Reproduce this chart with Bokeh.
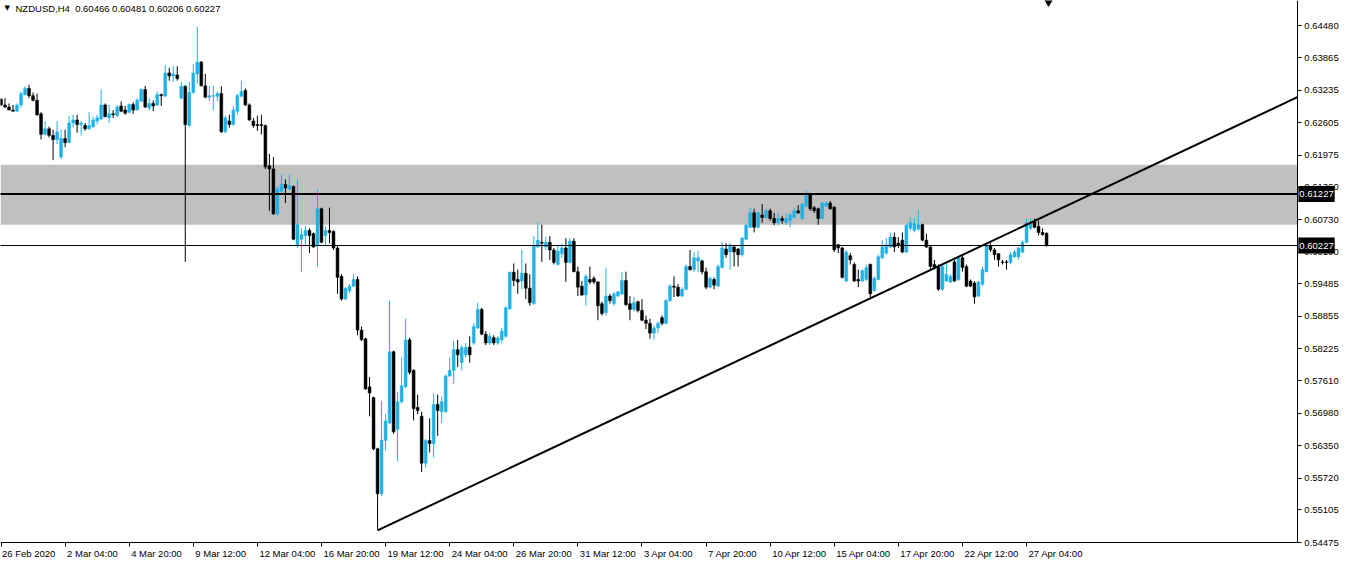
from bokeh.plotting import figure
from bokeh.models import (Range1d, FixedTicker, BoxAnnotation, Label,
                          ColumnDataSource, PrintfTickFormatter)
from bokeh.embed import file_html
from bokeh.resources import INLINE

symbol = "NZDUSD,H4"
time_labels = ["26 Feb 2020", "2 Mar 04:00", "4 Mar 20:00", "9 Mar 12:00", "12 Mar 04:00",
               "16 Mar 20:00", "19 Mar 12:00", "24 Mar 04:00", "26 Mar 20:00", "31 Mar 12:00",
               "3 Apr 04:00", "7 Apr 20:00", "10 Apr 12:00", "15 Apr 04:00", "17 Apr 20:00",
               "22 Apr 12:00", "27 Apr 04:00"]
bars_per_label = 16
price_ticks = [0.64480, 0.63865, 0.63235, 0.62605, 0.61975, 0.61360, 0.60730, 0.60100,
               0.59485, 0.58855, 0.58225, 0.57610, 0.56980, 0.56350, 0.55720, 0.55105, 0.54475]
price_min, price_max = 0.54475, 0.64973

candles = [
    (0.6306, 0.6308, 0.6293, 0.6295), (0.6295, 0.6308, 0.6289, 0.6291), (0.6291, 0.6298, 0.6285, 0.6285),
    (0.6285, 0.6295, 0.6282, 0.6283), (0.6283, 0.6298, 0.6282, 0.6295), (0.6295, 0.6321, 0.6289, 0.6317),
    (0.6315, 0.6331, 0.6313, 0.6327), (0.6327, 0.6334, 0.6308, 0.6313), (0.6313, 0.6319, 0.6302, 0.6304),
    (0.6304, 0.6317, 0.6274, 0.6276), (0.6278, 0.6281, 0.6228, 0.6238), (0.6238, 0.6264, 0.6236, 0.6249),
    (0.6249, 0.6253, 0.6232, 0.6236), (0.6236, 0.6247, 0.6188, 0.6228), (0.6228, 0.6264, 0.6219, 0.6243),
    (0.6194, 0.6247, 0.6190, 0.6230), (0.6230, 0.6247, 0.6213, 0.6222), (0.6222, 0.6274, 0.6222, 0.6260),
    (0.6260, 0.6276, 0.6251, 0.6266), (0.6266, 0.6276, 0.6241, 0.6257), (0.6257, 0.6264, 0.6236, 0.6260),
    (0.6255, 0.6260, 0.6245, 0.6249), (0.6249, 0.6281, 0.6247, 0.6255), (0.6253, 0.6272, 0.6251, 0.6266),
    (0.6264, 0.6276, 0.6257, 0.6270), (0.6268, 0.6325, 0.6266, 0.6295), (0.6295, 0.6298, 0.6272, 0.6272),
    (0.6270, 0.6295, 0.6260, 0.6278), (0.6278, 0.6285, 0.6270, 0.6276), (0.6274, 0.6295, 0.6272, 0.6291),
    (0.6293, 0.6302, 0.6281, 0.6283), (0.6285, 0.6293, 0.6276, 0.6279), (0.6281, 0.6298, 0.6279, 0.6296),
    (0.6296, 0.6300, 0.6278, 0.6285), (0.6285, 0.6308, 0.6285, 0.6304), (0.6302, 0.6327, 0.6302, 0.6325),
    (0.6325, 0.6332, 0.6289, 0.6291), (0.6289, 0.6308, 0.6285, 0.6298), (0.6298, 0.6304, 0.6283, 0.6293),
    (0.6295, 0.6321, 0.6293, 0.6315), (0.6315, 0.6317, 0.6293, 0.6313), (0.6312, 0.6372, 0.6311, 0.6357),
    (0.6357, 0.6367, 0.6342, 0.6351), (0.6351, 0.6370, 0.6340, 0.6355), (0.6353, 0.6370, 0.6342, 0.6346),
    (0.6308, 0.6340, 0.6306, 0.6331), (0.6331, 0.6333, 0.5991, 0.6257), (0.6255, 0.6340, 0.6253, 0.6319),
    (0.6319, 0.6374, 0.6317, 0.6357), (0.6355, 0.6446, 0.6336, 0.6378), (0.6378, 0.6380, 0.6331, 0.6332),
    (0.6332, 0.6355, 0.6308, 0.6310), (0.6310, 0.6332, 0.6302, 0.6313), (0.6312, 0.6332, 0.6285, 0.6313),
    (0.6312, 0.6321, 0.6302, 0.6317), (0.6317, 0.6331, 0.6241, 0.6243), (0.6243, 0.6274, 0.6241, 0.6270),
    (0.6264, 0.6276, 0.6251, 0.6257), (0.6257, 0.6293, 0.6255, 0.6285), (0.6283, 0.6317, 0.6276, 0.6313),
    (0.6312, 0.6342, 0.6310, 0.6321), (0.6323, 0.6327, 0.6293, 0.6295), (0.6295, 0.6298, 0.6264, 0.6266),
    (0.6264, 0.6270, 0.6251, 0.6255), (0.6257, 0.6274, 0.6245, 0.6255), (0.6257, 0.6276, 0.6238, 0.6255),
    (0.6255, 0.6257, 0.6171, 0.6175), (0.6177, 0.6200, 0.6090, 0.6171), (0.6171, 0.6194, 0.6082, 0.6084),
    (0.6084, 0.6137, 0.6080, 0.6132), (0.6128, 0.6160, 0.6126, 0.6141), (0.6141, 0.6151, 0.6105, 0.6134),
    (0.6132, 0.6160, 0.6130, 0.6139), (0.6137, 0.6139, 0.6033, 0.6035), (0.6024, 0.6151, 0.6018, 0.6063),
    (0.6035, 0.6056, 0.5971, 0.6044), (0.6042, 0.6061, 0.6024, 0.6052), (0.6052, 0.6056, 0.6008, 0.6042),
    (0.6046, 0.6048, 0.6018, 0.6020), (0.6022, 0.6132, 0.5982, 0.6094), (0.6094, 0.6096, 0.6027, 0.6029),
    (0.6042, 0.6060, 0.6024, 0.6052), (0.6052, 0.6096, 0.6027, 0.6048), (0.6050, 0.6052, 0.6014, 0.6018),
    (0.6018, 0.6024, 0.5929, 0.5961), (0.5963, 0.5967, 0.5916, 0.5919), (0.5919, 0.5942, 0.5917, 0.5940),
    (0.5935, 0.5948, 0.5931, 0.5944), (0.5944, 0.5967, 0.5942, 0.5957), (0.5957, 0.5963, 0.5849, 0.5859),
    (0.5859, 0.5866, 0.5838, 0.5840), (0.5842, 0.5844, 0.5743, 0.5745), (0.5749, 0.5768, 0.5692, 0.5737),
    (0.5728, 0.5730, 0.5626, 0.5629), (0.5629, 0.5631, 0.5472, 0.5542), (0.5542, 0.5722, 0.5537, 0.5646),
    (0.5645, 0.5696, 0.5626, 0.5683), (0.5679, 0.5916, 0.5677, 0.5817), (0.5817, 0.5819, 0.5658, 0.5662),
    (0.5667, 0.5739, 0.5605, 0.5720), (0.5720, 0.5806, 0.5717, 0.5751), (0.5749, 0.5881, 0.5747, 0.5840),
    (0.5840, 0.5844, 0.5773, 0.5777), (0.5781, 0.5783, 0.5684, 0.5707), (0.5709, 0.5734, 0.5696, 0.5703),
    (0.5692, 0.5701, 0.5584, 0.5601), (0.5601, 0.5648, 0.5593, 0.5645), (0.5645, 0.5688, 0.5622, 0.5639),
    (0.5639, 0.5736, 0.5612, 0.5715), (0.5715, 0.5734, 0.5654, 0.5703), (0.5701, 0.5730, 0.5679, 0.5720),
    (0.5701, 0.5773, 0.5698, 0.5770), (0.5770, 0.5806, 0.5768, 0.5781), (0.5781, 0.5838, 0.5754, 0.5821),
    (0.5821, 0.5840, 0.5787, 0.5811), (0.5796, 0.5830, 0.5781, 0.5825), (0.5811, 0.5834, 0.5806, 0.5825),
    (0.5826, 0.5847, 0.5796, 0.5811), (0.5834, 0.5872, 0.5830, 0.5866), (0.5863, 0.5912, 0.5861, 0.5899),
    (0.5899, 0.5902, 0.5849, 0.5851), (0.5851, 0.5857, 0.5830, 0.5834), (0.5834, 0.5853, 0.5830, 0.5847),
    (0.5844, 0.5849, 0.5830, 0.5834), (0.5834, 0.5847, 0.5830, 0.5844), (0.5840, 0.5863, 0.5834, 0.5857),
    (0.5847, 0.5906, 0.5844, 0.5902), (0.5900, 0.5972, 0.5898, 0.5971), (0.5971, 0.5988, 0.5944, 0.5955),
    (0.5957, 0.5976, 0.5929, 0.5952), (0.5954, 0.6014, 0.5938, 0.5969), (0.5969, 0.5988, 0.5919, 0.5940),
    (0.5940, 0.5967, 0.5906, 0.5912), (0.5910, 0.6041, 0.5908, 0.6022), (0.6020, 0.6067, 0.6018, 0.6033),
    (0.6029, 0.6063, 0.5991, 0.6027), (0.6020, 0.6039, 0.6014, 0.6029), (0.6029, 0.6041, 0.5995, 0.6014),
    (0.6014, 0.6018, 0.5986, 0.5990), (0.5986, 0.6024, 0.5984, 0.6012), (0.6007, 0.6026, 0.5999, 0.6018),
    (0.6018, 0.6037, 0.5952, 0.5990), (0.5990, 0.6037, 0.5988, 0.6031), (0.6031, 0.6037, 0.5971, 0.5972),
    (0.5972, 0.5982, 0.5925, 0.5942), (0.5944, 0.5954, 0.5925, 0.5927), (0.5927, 0.5967, 0.5906, 0.5963),
    (0.5957, 0.5982, 0.5948, 0.5952), (0.5959, 0.5963, 0.5948, 0.5952), (0.5952, 0.5954, 0.5878, 0.5906),
    (0.5910, 0.5914, 0.5887, 0.5891), (0.5893, 0.5980, 0.5887, 0.5925), (0.5925, 0.5929, 0.5910, 0.5916),
    (0.5910, 0.5933, 0.5906, 0.5929), (0.5925, 0.5935, 0.5923, 0.5933), (0.5929, 0.5972, 0.5927, 0.5955),
    (0.5955, 0.5972, 0.5906, 0.5908), (0.5910, 0.5925, 0.5878, 0.5899), (0.5899, 0.5923, 0.5895, 0.5912),
    (0.5914, 0.5916, 0.5893, 0.5897), (0.5897, 0.5919, 0.5876, 0.5878), (0.5878, 0.5887, 0.5861, 0.5872),
    (0.5872, 0.5881, 0.5842, 0.5853), (0.5853, 0.5868, 0.5840, 0.5863), (0.5863, 0.5876, 0.5853, 0.5872),
    (0.5883, 0.5887, 0.5868, 0.5872), (0.5872, 0.5919, 0.5870, 0.5916), (0.5916, 0.5948, 0.5914, 0.5944),
    (0.5944, 0.5963, 0.5923, 0.5942), (0.5942, 0.5948, 0.5923, 0.5925), (0.5925, 0.5942, 0.5923, 0.5938),
    (0.5938, 0.5986, 0.5936, 0.5982), (0.5982, 0.6014, 0.5974, 0.5976), (0.5976, 0.6010, 0.5972, 0.5999),
    (0.5993, 0.6012, 0.5971, 0.5999), (0.5993, 0.5995, 0.5967, 0.5972), (0.5972, 0.5980, 0.5938, 0.5942),
    (0.5942, 0.5963, 0.5940, 0.5959), (0.5957, 0.5961, 0.5938, 0.5946), (0.5944, 0.5986, 0.5942, 0.5982),
    (0.5980, 0.6029, 0.5978, 0.6018), (0.6016, 0.6027, 0.5999, 0.6005), (0.6010, 0.6027, 0.5976, 0.6024),
    (0.6020, 0.6024, 0.5982, 0.6010), (0.6016, 0.6018, 0.5982, 0.6005), (0.6005, 0.6039, 0.6001, 0.6037),
    (0.6035, 0.6065, 0.6033, 0.6062), (0.6058, 0.6096, 0.6056, 0.6086), (0.6086, 0.6094, 0.6048, 0.6058),
    (0.6058, 0.6088, 0.6056, 0.6086), (0.6082, 0.6103, 0.6067, 0.6077), (0.6077, 0.6094, 0.6075, 0.6090),
    (0.6090, 0.6094, 0.6071, 0.6075), (0.6075, 0.6086, 0.6062, 0.6067), (0.6067, 0.6086, 0.6062, 0.6075),
    (0.6075, 0.6080, 0.6065, 0.6071), (0.6067, 0.6086, 0.6063, 0.6075), (0.6071, 0.6086, 0.6058, 0.6082),
    (0.6077, 0.6096, 0.6075, 0.6090), (0.6090, 0.6101, 0.6084, 0.6086), (0.6075, 0.6105, 0.6073, 0.6103),
    (0.6099, 0.6130, 0.6096, 0.6122), (0.6122, 0.6124, 0.6090, 0.6094), (0.6096, 0.6099, 0.6086, 0.6090),
    (0.6094, 0.6096, 0.6063, 0.6075), (0.6075, 0.6107, 0.6073, 0.6105), (0.6099, 0.6109, 0.6097, 0.6105),
    (0.6105, 0.6109, 0.6092, 0.6094), (0.6097, 0.6099, 0.6010, 0.6014), (0.6024, 0.6026, 0.6008, 0.6018),
    (0.6018, 0.6020, 0.5959, 0.5961), (0.5954, 0.6014, 0.5952, 0.6010), (0.6003, 0.6008, 0.5986, 0.5995),
    (0.5986, 0.5990, 0.5952, 0.5954), (0.5957, 0.5976, 0.5942, 0.5954), (0.5954, 0.5976, 0.5952, 0.5974),
    (0.5957, 0.5986, 0.5954, 0.5980), (0.5986, 0.5988, 0.5923, 0.5929), (0.5936, 0.5963, 0.5933, 0.5959),
    (0.5957, 0.6005, 0.5955, 0.6001), (0.5999, 0.6033, 0.5997, 0.6020), (0.6008, 0.6037, 0.6005, 0.6024),
    (0.6020, 0.6048, 0.6018, 0.6039), (0.6039, 0.6048, 0.6010, 0.6020), (0.6027, 0.6039, 0.6018, 0.6024),
    (0.6033, 0.6048, 0.6008, 0.6010), (0.6010, 0.6065, 0.6008, 0.6062), (0.6056, 0.6077, 0.6052, 0.6067),
    (0.6052, 0.6075, 0.6048, 0.6065), (0.6054, 0.6092, 0.6052, 0.6063), (0.6063, 0.6065, 0.6031, 0.6033),
    (0.6033, 0.6046, 0.6018, 0.6020), (0.6020, 0.6024, 0.5976, 0.5982), (0.5986, 0.5995, 0.5976, 0.5980),
    (0.5982, 0.5986, 0.5935, 0.5938), (0.5938, 0.5986, 0.5935, 0.5982), (0.5954, 0.5986, 0.5952, 0.5967),
    (0.5952, 0.5967, 0.5950, 0.5963), (0.5991, 0.5995, 0.5952, 0.5954), (0.5957, 0.6001, 0.5954, 0.5999),
    (0.5999, 0.6005, 0.5972, 0.5980), (0.5982, 0.5986, 0.5942, 0.5944), (0.5954, 0.5957, 0.5942, 0.5944),
    (0.5950, 0.5954, 0.5910, 0.5923), (0.5925, 0.5954, 0.5923, 0.5952), (0.5948, 0.5982, 0.5944, 0.5976),
    (0.5972, 0.6027, 0.5971, 0.6022), (0.6022, 0.6027, 0.6010, 0.6014), (0.6014, 0.6018, 0.5995, 0.6005),
    (0.6007, 0.6008, 0.5982, 0.5995), (0.5991, 0.5995, 0.5986, 0.5990), (0.5991, 0.5995, 0.5976, 0.5990),
    (0.5990, 0.6010, 0.5986, 0.6005), (0.6001, 0.6014, 0.5999, 0.6010), (0.6001, 0.6020, 0.5995, 0.6018),
    (0.6010, 0.6033, 0.6008, 0.6029), (0.6029, 0.6075, 0.6027, 0.6067), (0.6056, 0.6075, 0.6052, 0.6067),
    (0.6069, 0.6075, 0.6056, 0.6058), (0.6060, 0.6071, 0.6042, 0.6048), (0.6048, 0.6056, 0.6042, 0.6044),
    (0.60466, 0.60481, 0.60206, 0.60227),
]
opens = [c[0] for c in candles]
highs = [c[1] for c in candles]
lows = [c[2] for c in candles]
closes = [c[3] for c in candles]

zone_top, zone_bottom = 0.6179, 0.6063
resistance = 0.61227
trend_bars = [94, 256]          # trendline anchors (ray to the right)
trend_prices = [0.5471, 0.6063]

BULL = "#1fb1e6"
BEAR = "#000000"
FONT = "Liberation Sans"
FS = "9.5px"

# visible window: bars / prices
X0, X1 = -0.125, 334.87
AXIS_X = 323.6                  # bar position of the price scale
Y1 = price_max
Y0 = 0.54107

idx = list(range(len(candles)))
colors = [BULL if c > o else BEAR for o, c in zip(opens, closes)]
src = ColumnDataSource(dict(x=idx, h=highs, l=lows,
                            top=[max(o, c) for o, c in zip(opens, closes)],
                            bot=[min(o, c) for o, c in zip(opens, closes)],
                            color=colors))

p = figure(width=1342, height=561, output_backend="svg", toolbar_location=None,
           x_range=Range1d(X0, X1), y_range=Range1d(Y0, Y1),
           y_axis_location="right", min_border_left=0, min_border_top=0,
           min_border_right=0, min_border_bottom=0)
p.outline_line_color = None
p.grid.visible = False
p.background_fill_color = "white"
p.border_fill_color = "white"

p.add_layout(BoxAnnotation(bottom=zone_bottom, top=zone_top, right=AXIS_X,
                           fill_color="#c0c0c0", fill_alpha=1.0, line_color=None,
                           level="underlay"))

p.segment(x0="x", x1="x", y0="l", y1="h", color="color", line_width=1, source=src)
p.vbar(x="x", width=0.72, top="top", bottom="bot", fill_color="color",
       line_color="color", line_width=0.5, source=src)

p.segment(x0=[X0 - 5], x1=[AXIS_X], y0=[resistance], y1=[resistance],
          line_color="black", line_width=2)
p.segment(x0=[X0 - 5], x1=[AXIS_X], y0=[closes[-1]], y1=[closes[-1]],
          line_color="black", line_width=1)
slope = (trend_prices[1] - trend_prices[0]) / (trend_bars[1] - trend_bars[0])
p.line([trend_bars[0], AXIS_X],
       [trend_prices[0], trend_prices[0] + slope * (AXIS_X - trend_bars[0])],
       line_color="black", line_width=2)

# time axis: ticks from the axis, labels left-aligned like the terminal
xa = p.xaxis[0]
ticks = [i * bars_per_label for i in range(len(time_labels))]
xa.fixed_location = price_min
xa.bounds = (X0 - 5, AXIS_X)
xa.ticker = FixedTicker(ticks=ticks)
xa.major_label_text_color = None
xa.major_tick_in = 0
xa.major_tick_out = 4
xa.minor_tick_out = 0
xa.minor_tick_in = 0
xa.axis_line_color = "black"
xa.major_tick_line_color = "black"

for t, lab in zip(ticks, time_labels):
    p.add_layout(Label(x=t, y=price_min, x_offset=2 if t > 0 else 1, y_offset=-5,
                       text=lab, text_align="left", text_baseline="top",
                       text_font=FONT, text_font_size=FS, text_color="black"))

# price axis
ya = p.yaxis[0]
ya.fixed_location = AXIS_X
ya.bounds = (price_min, price_max)
ya.ticker = FixedTicker(ticks=price_ticks)
ya.formatter = PrintfTickFormatter(format="%.5f")
ya.major_label_text_font = FONT
ya.major_label_text_font_size = FS
ya.major_label_text_color = "black"
ya.major_tick_in = 0
ya.major_tick_out = 4
ya.minor_tick_out = 0
ya.minor_tick_in = 0
ya.axis_line_color = "black"
ya.major_tick_line_color = "black"
ya.major_label_standoff = 3

for lvl in (resistance, closes[-1]):
    p.add_layout(Label(x=AXIS_X, y=lvl, x_offset=1, text=f"{lvl:.5f}",
                       text_baseline="middle", text_color="white", text_font=FONT,
                       text_font_size=FS, background_fill_color="black", padding=(1, 5)))

title_text = (f"{symbol}\u00a0\u00a0{opens[-1]:.5f} {highs[-1]:.5f} "
              f"{lows[-1]:.5f} {closes[-1]:.5f}")
p.add_layout(Label(x=X0, y=Y1, x_offset=15, y_offset=-2, text=title_text,
                   text_baseline="top", text_font=FONT, text_font_size=FS, text_color="black"))
p.add_layout(Label(x=X0, y=Y1, x_offset=4, y_offset=-3, text="\u25bc",
                   text_baseline="top", text_font="DejaVu Sans", text_font_size="7px",
                   text_color="black"))

p.scatter([len(candles) - 0.5], [Y1], marker="inverted_triangle", size=10, color="black")

open("out.html", "w").write(file_html(p, INLINE))
